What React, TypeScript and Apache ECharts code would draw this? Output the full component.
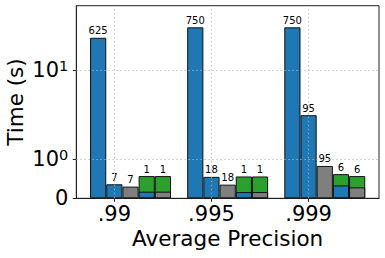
import React, { useEffect, useRef } from 'react';
import * as echarts from 'echarts';

// ---- data ----
const CATEGORIES = ['.99', '.995', '.999'];
const Y_TICK_VALUES = [0, 1, 10];

// time in seconds
const method1 = [23.2, 30.4, 30.4];
const method2 = [0.36, 0.55, 3.13];
const method3 = [0.3, 0.35, 0.83];
const method4Base = [0.17, 0.16, 0.33];
const method4Total = [0.57, 0.56, 0.62];
const method5Base = [0.17, 0.16, 0.28];
const method5Total = [0.57, 0.56, 0.57];

// annotation labels printed over the bars
const labels1 = ['625', '750', '750'];
const labels2 = ['7', '18', '95'];
const labels3 = ['7', '18', '95'];
const labels4 = ['1', '1', '6'];
const labels5 = ['1', '1', '6'];

// ---- scale / layout ----
const LIN = 0.438; // size of linear region [0,1] in decades
const sym = (v: number) => (v <= 1 ? v * LIN : LIN + Math.log10(v));
const Y_MAX = 2.164;
const X_MIN = -0.3917;
const X_MAX = 2.725;
const SLOT = 1 / 6;
const BAR_SLOTS = [-1, 0, 1, 2, 3];

const BLUE = '#1f77b4';
const GRAY = '#7f7f7f';
const GREEN = '#2ca02c';
const EDGE = '#111';
const FONT = 'DejaVu Sans';

export default function App() {
  const ref = useRef<HTMLDivElement>(null);

  useEffect(() => {
    const chart = echarts.init(ref.current!, null, { renderer: 'svg' });

    const xs = (k: number) => CATEGORIES.map((_, i) => i + BAR_SLOTS[k] * SLOT);

    const labelCfg = (arr: string[]) => ({
      show: true,
      position: 'top',
      distance: 2,
      fontSize: 10,
      fontFamily: FONT,
      color: '#000',
      formatter: (p: any) => arr[p.dataIndex],
    });

    // stacked parts are drawn as overlapping bars: the total first, the lower part on top of it
    const bar = (name: string, k: number, values: number[], color: string, z: number, labels?: string[]) => ({
      name,
      type: 'bar',
      barWidth: 16.2,
      barGap: '-100%',
      z,
      itemStyle: { color, borderColor: EDGE, borderWidth: 1 },
      label: labels ? labelCfg(labels) : { show: false },
      data: xs(k).map((x, i) => [x, sym(values[i])]),
    });

    const gridLine = { type: [1.5, 2.5], color: '#b8b8b8', width: 0.8 };

    const option: any = {
      animation: false,
      grid: {
        left: 76.3,
        right: 6,
        top: 5.7,
        bottom: 59.7,
        show: true,
        borderColor: '#222',
        borderWidth: 1,
        backgroundColor: 'transparent',
        outerBoundsMode: 'none',
      },
      xAxis: {
        type: 'value',
        min: X_MIN,
        max: X_MAX,
        name: 'Average Precision',
        nameLocation: 'middle',
        nameGap: 30,
        nameMoveOverlap: false,
        nameTextStyle: { fontSize: 21.5, lineHeight: 20, fontFamily: FONT, color: '#000' },
        axisLine: { show: true, onZero: false, lineStyle: { color: '#222', width: 1 } },
        axisTick: {
          show: true,
          length: 3.5,
          inside: false,
          customValues: [0, 1, 2],
          lineStyle: { color: '#222', width: 1 },
        },
        axisLabel: {
          customValues: [0, 1, 2],
          margin: 7,
          fontSize: 21,
          lineHeight: 18,
          fontFamily: FONT,
          color: '#000',
          formatter: (v: number) => CATEGORIES[Math.round(v)] ?? '',
        },
        splitLine: { show: false },
      },
      yAxis: {
        type: 'value',
        min: 0,
        max: Y_MAX,
        name: 'Time (s)',
        nameLocation: 'middle',
        nameGap: 50,
        nameMoveOverlap: false,
        nameTextStyle: { fontSize: 21.5, fontFamily: FONT, color: '#000' },
        axisLine: { show: true, onZero: false, lineStyle: { color: '#222', width: 1 } },
        axisTick: {
          show: true,
          length: 3.5,
          inside: false,
          customValues: Y_TICK_VALUES.map(sym),
          lineStyle: { color: '#222', width: 1 },
        },
        axisLabel: {
          customValues: Y_TICK_VALUES.map(sym),
          margin: 8,
          fontSize: 21,
          fontFamily: FONT,
          color: '#000',
          formatter: (v: number) => {
            const tv = Y_TICK_VALUES.find((x) => Math.abs(sym(x) - v) < 1e-6);
            if (tv === undefined) return '';
            if (tv === 0) return '0';
            return `{b|10}{s|${Math.round(Math.log10(tv))}}`;
          },
          rich: {
            b: { fontSize: 21, fontFamily: FONT, color: '#000', lineHeight: 24 },
            s: {
              fontSize: 14.5,
              fontFamily: FONT,
              color: '#000',
              lineHeight: 15,
              verticalAlign: 'top',
            },
          },
        },
        splitLine: { show: false },
      },
      series: [
        {
          type: 'line',
          data: [],
          z: 1,
          silent: true,
          markLine: {
            silent: true,
            symbol: ['none', 'none'],
            label: { show: false },
            lineStyle: gridLine,
            data: [
              ...Y_TICK_VALUES.filter((v) => v > 0).map((v) => ({ yAxis: sym(v) })),
              ...CATEGORIES.map((_, i) => ({ xAxis: i })),
            ],
          },
        },
        bar('m1', 0, method1, BLUE, 3, labels1),
        bar('m2', 1, method2, BLUE, 3, labels2),
        bar('m3', 2, method3, GRAY, 3, labels3),
        bar('m4total', 3, method4Total, GREEN, 3, labels4),
        bar('m4base', 3, method4Base, BLUE, 4),
        bar('m5total', 4, method5Total, GREEN, 3, labels5),
        bar('m5base', 4, method5Base, GRAY, 4),
      ],
    };

    chart.setOption(option);
    return () => chart.dispose();
  }, []);

  return (
    <div
      ref={ref}
      style={{ position: 'fixed', left: 0, top: 0, width: 385, height: 258, background: '#fff' }}
    />
  );
}
